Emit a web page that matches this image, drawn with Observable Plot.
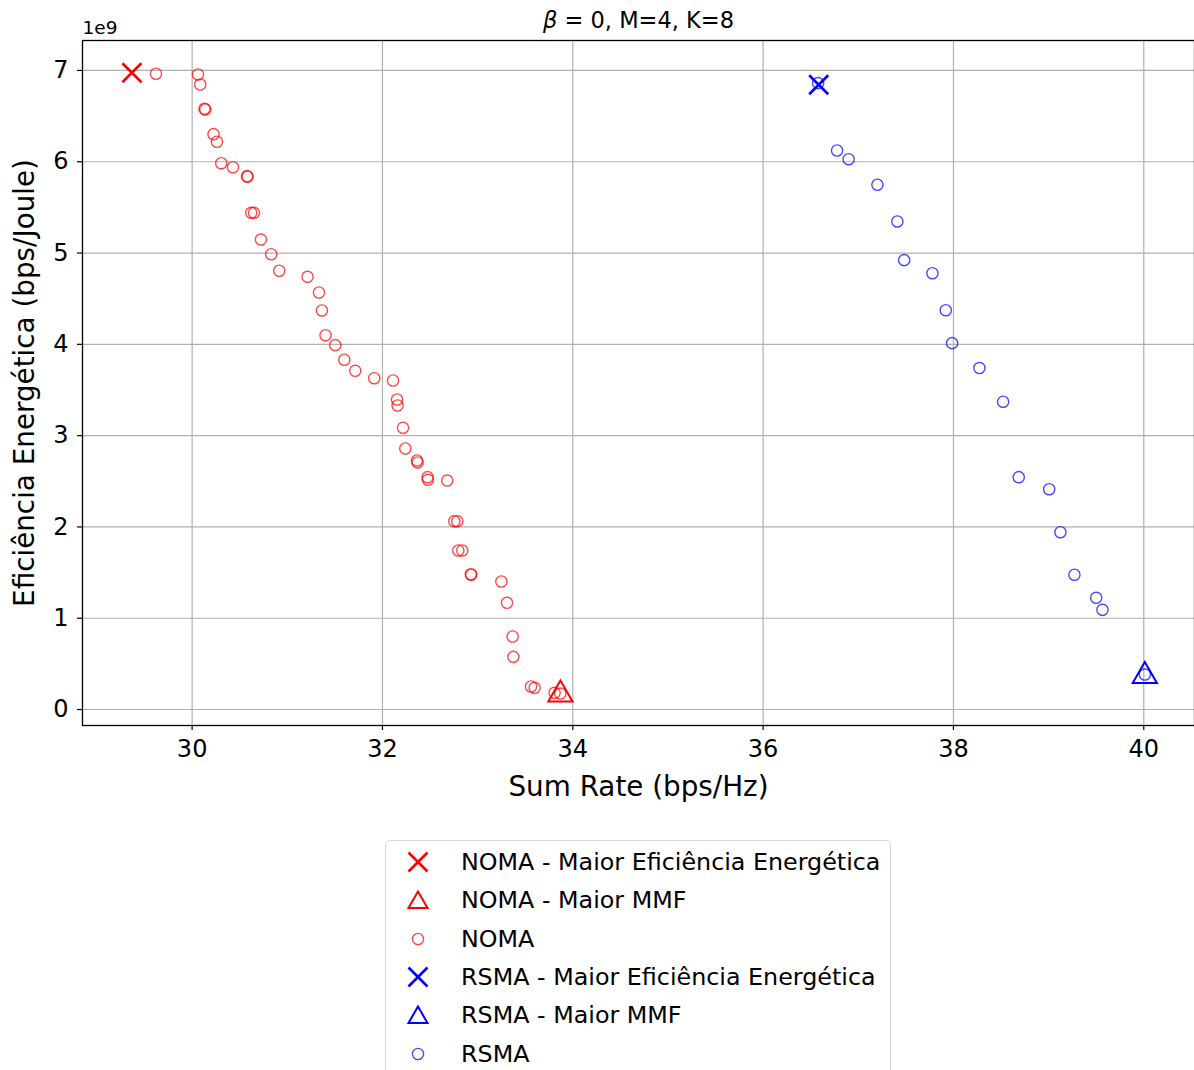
<!DOCTYPE html>
<html><head><meta charset="utf-8">
<script src="https://cdn.jsdelivr.net/npm/d3@7"></script>
<script src="https://cdn.jsdelivr.net/npm/@observablehq/plot@0.6"></script>
<style>
body{margin:0;background:#fff;font-family:"DejaVu Sans",sans-serif;}
#chart{position:relative;width:1194px;height:1070px;overflow:hidden;background:#fff}
#legend{position:absolute;left:385px;top:840px;width:504px;border:1px solid #d6d6d6;border-radius:5px;background:#fff;padding:2px 0 12px 0}
.item{height:38.3px;display:flex;align-items:center;font-size:23.8px;color:#000;white-space:nowrap}
.item svg{margin-left:20px;width:24px;height:24px;flex:none}
.item span{margin-left:31px}
</style></head><body><div id="chart"></div>
<script>
// Sum Rate (bps/Hz) and Energy efficiency (units of 1e9 bps/Joule)
const nomaRate = [29.620,30.061,30.085,30.130,30.138,30.225,30.261,30.306,30.429,30.577,30.582,30.621,30.650,30.723,30.831,30.915,31.213,31.333,31.364,31.402,31.504,31.599,31.714,31.914,32.111,32.153,32.159,32.216,32.240,32.363,32.369,32.474,32.478,32.681,32.755,32.786,32.797,32.839,32.928,32.933,33.249,33.309,33.368,33.375,33.561,33.599,33.809,33.869];
const nomaEE   = [6.964,6.956,6.846,6.580,6.572,6.302,6.219,5.984,5.940,5.842,5.836,5.441,5.441,5.148,4.987,4.806,4.740,4.568,4.371,4.100,3.991,3.831,3.710,3.629,3.604,3.396,3.330,3.086,2.859,2.728,2.706,2.545,2.516,2.508,2.063,2.063,1.742,1.742,1.482,1.476,1.402,1.169,0.800,0.577,0.252,0.238,0.183,0.175];
const rsmaRate = [36.578,36.777,36.899,37.201,37.411,37.482,37.779,37.919,37.986,38.273,38.522,38.686,39.006,39.124,39.271,39.500,39.566,40.011];
const rsmaEE   = [6.861,6.123,6.028,5.748,5.346,4.922,4.779,4.374,4.013,3.740,3.371,2.545,2.413,1.942,1.476,1.224,1.092,0.383];
const nomaBestEE  = {rate: 29.367, ee: 6.975};
const nomaBestMMF = {rate: 33.870, ee: 0.164};
const rsmaBestEE  = {rate: 36.584, ee: 6.843};
const rsmaBestMMF = {rate: 40.011, ee: 0.367};
const xTicks = [30,32,34,36,38,40];
const yTicks = [0,1,2,3,4,5,6,7];
const legendLabels = ["NOMA - Maior Eficiência Energética","NOMA - Maior MMF","NOMA","RSMA - Maior Eficiência Energética","RSMA - Maior MMF","RSMA"];

const noma = nomaRate.map((r,i)=>({rate:r, ee:nomaEE[i]}));
const rsma = rsmaRate.map((r,i)=>({rate:r, ee:rsmaEE[i]}));
const grid = {stroke:"#b0b0b0", strokeOpacity:1, strokeWidth:1.2};

const plot = Plot.plot({
  width:1194, height:810,
  marginLeft:82, marginRight:0, marginTop:40, marginBottom:85,
  style:{fontFamily:"DejaVu Sans", background:"#fff", color:"#000"},
  x:{domain:[28.848,40.533]},
  y:{domain:[-0.175,7.328]},
  marks:[
    Plot.gridX(xTicks, grid),
    Plot.gridY(yTicks, grid),
    Plot.axisX(xTicks, {tickSize:5, tickPadding:9, fontSize:24, label:null, strokeWidth:1.2, tickFormat:"d"}),
    Plot.axisY(yTicks, {tickSize:5, tickPadding:9, fontSize:24, label:null, strokeWidth:1.2, tickFormat:"d"}),
    Plot.frame({stroke:"#000", strokeWidth:1.3}),
    Plot.dot([nomaBestEE], {x:"rate", y:"ee", symbol:"times", r:8.7, stroke:"red", strokeWidth:2.6}),
    Plot.dot([nomaBestMMF], {x:"rate", y:"ee", symbol:"triangle", r:9, stroke:"red", strokeWidth:2}),
    Plot.dot(noma, {x:"rate", y:"ee", symbol:"circle", r:5.6, stroke:"red", strokeOpacity:0.72, strokeWidth:1.4, fill:"none"}),
    Plot.dot([rsmaBestEE], {x:"rate", y:"ee", symbol:"times", r:8.7, stroke:"blue", strokeWidth:2.6}),
    Plot.dot([rsmaBestMMF], {x:"rate", y:"ee", symbol:"triangle", r:9, stroke:"blue", strokeWidth:2}),
    Plot.dot(rsma, {x:"rate", y:"ee", symbol:"circle", r:5.6, stroke:"blue", strokeOpacity:0.72, strokeWidth:1.4, fill:"none"}),
    Plot.text(["TITLE"], {frameAnchor:"top", dy:-20, lineAnchor:"middle", textAnchor:"middle", fontSize:22.5, fill:"#000"}),
    Plot.text(["1e9"], {frameAnchor:"top-left", dy:-12, lineAnchor:"middle", textAnchor:"start", fontSize:18.5, fill:"#000"}),
    Plot.text(["Sum Rate (bps/Hz)"], {frameAnchor:"bottom", dy:62, lineAnchor:"middle", textAnchor:"middle", fontSize:27.8, fill:"#000"}),
    Plot.text(["Eficiência Energética (bps/Joule)"], {frameAnchor:"left", dx:-57, rotate:-90, lineAnchor:"middle", textAnchor:"middle", fontSize:27.8, fill:"#000"})
  ]
});
d3.select(plot).selectAll("text").filter(function(){return this.textContent==="TITLE";})
  .each(function(){
    const t = d3.select(this); t.text("");
    t.append("tspan").attr("font-style","italic").text("β");
    t.append("tspan").text(" = 0, M=4, K=8");
  });
const chart = document.getElementById("chart");
chart.appendChild(plot);

// legend
const legend = document.createElement("div");
legend.id = "legend";
const icons = [
  {sym:d3.symbolTimes, size:237, color:"red", w:2.6, op:1},
  {sym:d3.symbolTriangle2, size:258, color:"red", w:2, op:1},
  {sym:d3.symbolCircle, size:Math.PI*5.6*5.6, color:"red", w:1.4, op:0.72},
  {sym:d3.symbolTimes, size:237, color:"blue", w:2.6, op:1},
  {sym:d3.symbolTriangle2, size:258, color:"blue", w:2, op:1},
  {sym:d3.symbolCircle, size:Math.PI*5.6*5.6, color:"blue", w:1.4, op:0.72}
];
legendLabels.forEach((lab,i)=>{
  const it = document.createElement("div"); it.className="item";
  const ic = icons[i];
  const path = d3.symbol(ic.sym, ic.size)();
  const dy = ic.sym===d3.symbolTriangle2 ? 2.5 : 0;
  it.innerHTML = `<svg viewBox="-12 -12 24 24"><path d="${path}" transform="translate(0,${dy})" fill="none" stroke="${ic.color}" stroke-opacity="${ic.op}" stroke-width="${ic.w}"/></svg><span></span>`;
  it.querySelector("span").textContent = lab;
  legend.appendChild(it);
});
chart.appendChild(legend);
</script></body></html>
